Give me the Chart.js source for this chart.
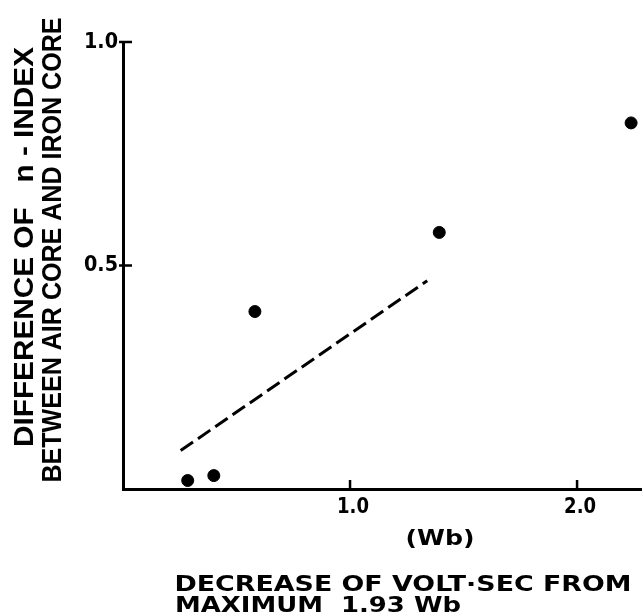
<!DOCTYPE html>
<html>
<head>
<meta charset="utf-8">
<script src="https://cdn.jsdelivr.net/npm/chart.js@4"></script>
<style>
  html, body { margin: 0; padding: 0; background: #fff; }
</style>
</head>
<body>
<canvas id="chart" width="642" height="616"></canvas>
<script>
// measured points: decrease of volt-sec (Wb) vs difference of n-index
const decreaseWb = [0.285, 0.40, 0.581, 1.393, 2.238];
const nIndexDiff = [0.019, 0.030, 0.397, 0.574, 0.819];

// dashed trend line
const trendX = [0.254, 1.34];
const trendY = [0.086, 0.466];

const xTicks = [1.0, 2.0];
const xTickLabels = ["1.0", "2.0"];
const yTicks = [0.5, 1.0];
const yTickLabels = ["0.5", "1.0"];

const yTitle = ["DIFFERENCE OF   n - INDEX", "BETWEEN AIR CORE AND IRON CORE"];
const xTitle = ["(Wb)", "DECREASE OF VOLT·SEC FROM", "MAXIMUM  1.93 Wb"];

function fitText(ctx, text, cx, cy, len, angle) {
  ctx.save();
  ctx.translate(cx, cy);
  ctx.rotate(angle);
  const w = ctx.measureText(text).width;
  ctx.scale(len / w, 1);
  ctx.textAlign = "center";
  ctx.textBaseline = "middle";
  ctx.fillText(text, 0, 0);
  ctx.restore();
}

const axisDecor = {
  id: "axisDecor",
  afterDraw(chart) {
    const ctx = chart.ctx;
    const xs = chart.scales.x;
    const ys = chart.scales.y;
    const x0 = xs.getPixelForValue(0);
    const y0 = ys.getPixelForValue(0);
    ctx.save();
    ctx.strokeStyle = "#000";
    ctx.fillStyle = "#000";
    ctx.lineWidth = 2.5;

    // tick marks point into the plot
    xTicks.forEach((v) => {
      const px = xs.getPixelForValue(v);
      ctx.beginPath();
      ctx.moveTo(px, y0);
      ctx.lineTo(px, y0 - 9);
      ctx.stroke();
    });
    yTicks.forEach((v) => {
      const py = ys.getPixelForValue(v);
      ctx.beginPath();
      ctx.moveTo(x0 - 4, py);
      ctx.lineTo(x0 + 9, py);
      ctx.stroke();
    });

    ctx.font = "bold 22px 'DejaVu Sans'";
    xTicks.forEach((v, i) => {
      fitText(ctx, xTickLabels[i], xs.getPixelForValue(v) + 3, y0 + 18, 32, 0);
    });
    yTicks.forEach((v, i) => {
      fitText(ctx, yTickLabels[i], x0 - 22, ys.getPixelForValue(v), 34, 0);
    });

    // rotated y title, two lines
    ctx.font = "bold 27px 'Liberation Sans Narrow', 'Liberation Sans'";
    fitText(ctx, yTitle[0], 26, 247, 400, -Math.PI / 2);
    fitText(ctx, yTitle[1], 54, 250, 465, -Math.PI / 2);

    // x title, three lines
    ctx.font = "bold 22px 'DejaVu Sans'";
    fitText(ctx, xTitle[0], 440, 539, 69, 0);
    fitText(ctx, xTitle[1], 403, 585, 457, 0);
    fitText(ctx, xTitle[2], 318, 606, 286, 0);
    ctx.restore();
  },
};

new Chart(document.getElementById("chart"), {
  type: "scatter",
  data: {
    datasets: [
      {
        type: "line",
        data: trendX.map((x, i) => ({ x: x, y: trendY[i] })),
        borderColor: "#000",
        borderWidth: 3,
        borderDash: [15, 6],
        pointRadius: 0,
        fill: false,
      },
      {
        data: decreaseWb.map((x, i) => ({ x: x, y: nIndexDiff[i] })),
        pointRadius: 6,
        backgroundColor: "#000",
        borderColor: "#000",
      },
    ],
  },
  options: {
    responsive: false,
    animation: false,
    devicePixelRatio: 1,
    layout: { autoPadding: false, padding: { left: 123, top: 42, right: 0, bottom: 127 } },
    plugins: {
      legend: { display: false },
      tooltip: { enabled: false },
    },
    scales: {
      x: {
        type: "linear",
        min: 0,
        max: 2.286,
        ticks: { display: false },
        grid: { display: false, drawTicks: false, tickLength: 0 },
        border: { display: true, color: "#000", width: 3 },
      },
      y: {
        type: "linear",
        min: 0,
        max: 1.0,
        ticks: { display: false },
        grid: { display: false, drawTicks: false, tickLength: 0 },
        border: { display: true, color: "#000", width: 3 },
      },
    },
  },
  plugins: [axisDecor],
});
</script>
</body>
</html>
